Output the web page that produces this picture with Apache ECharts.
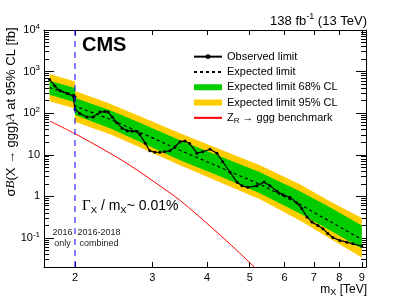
<!DOCTYPE html>
<html><head><meta charset="utf-8">
<script src="https://cdn.jsdelivr.net/npm/echarts@6/dist/echarts.min.js"></script>
<style>html,body{margin:0;padding:0;background:#fff}#c{width:407px;height:301px}</style>
</head><body><div id="c"></div>
<script>
const massObs = [1.75,1.80,1.85,1.92,1.98,2.0,2.0,2.05,2.13,2.2,2.28,2.34,2.38,2.43,2.49,2.56,2.63,2.7,2.77,2.81,2.89,2.96,3.04,3.12,3.2,3.29,3.38,3.47,3.56,3.65,3.79,3.91,4.06,4.21,4.34,4.51,4.68,4.8,4.95,5.19,5.39,5.56,5.77,5.95,6.17,6.4,6.57,6.75,6.93,7.15,7.34,7.53,7.73,8.02,8.32,8.59,9.0];
const observed = [649,448,344,299,261,247,125,98,81,81,106,109,106,81,59,43.5,38,37,36,31,19,12.5,11.5,11.5,11.8,12.5,15.6,20.6,21.5,18.6,10.9,11.8,13.6,10.9,6.8,3.8,2.17,1.79,1.65,1.79,2.21,1.79,1.32,1.09,0.95,0.70,0.51,0.32,0.24,0.20,0.167,0.128,0.103,0.087,0.079,0.072,0.064];
const massExp = [1.75,2.0,2.0,2.403,2.81,3.47,4.276,5.275,6.504,7.612,9.0];
const expected = [411,272,148,71.6,34.8,12.8,5.0,1.95,0.641,0.250,0.092];
const exp68Hi = [606,401,231,118,59.0,22.3,9.2,3.79,1.32,0.544,0.200];
const exp68Lo = [279,184,89.8,43.4,20.5,7.35,3.03,1.18,0.389,0.152,0.0558];
const exp95Hi = [869,575,340,169,84.5,32.9,13.6,5.60,1.95,0.759,0.30];
const exp95Lo = [194,129,62.6,31.2,15.1,5.57,2.18,0.849,0.264,0.0974,0.0339];
const massZR = [1.755,2.01,2.34,2.668,3.04,3.47,4.165,4.675,5.22];
const benchZR = [64.2,31.2,12.8,5.58,2.17,0.80,0.152,0.050,0.0165];
const dividerMass = [2, 2];
const dividerRange = [0.02, 10000];
const xTicks = [2,3,4,5,6,7,8,9];
const yMajor = [0.1,1,10,100,1000,10000];
const yMinor = [];
[0.01,0.1,1,10,100,1000].forEach(d=>{for(let k=2;k<=9;k++) yMinor.push(+(d*k).toPrecision(3));});
const yLabelText = {'0.1':'{b|10}{e|-1}','1':'{b|1}','10':'{b|10}','100':'{b|10}{e|2}','1000':'{b|10}{e|3}','10000':'{b|10}{e|4}'};

const FONT = 'Liberation Sans, Arial, Helvetica, sans-serif';
const pairs = (xs, ys) => xs.map((x,i)=>[x, ys[i]]);

function band(name, hi, lo, color, z){
  return {type:'custom', name, z, xAxisIndex:0, yAxisIndex:0, itemStyle:{color}, silent:true,
    data:[[massExp[0], expected[0]]],
    renderItem:(params, api)=>{
      const pts=[];
      for(let i=0;i<massExp.length;i++) pts.push(api.coord([massExp[i], hi[i]]));
      for(let i=massExp.length-1;i>=0;i--) pts.push(api.coord([massExp[i], lo[i]]));
      return {type:'polygon', shape:{points:pts}, style:{fill:color}};
    }};
}

const xBase = {type:'log', min:1.7, max:9.2, gridIndex:0, splitLine:{show:false}};
const yBase = {type:'log', min:0.02, max:10000, gridIndex:0, splitLine:{show:false}};
const axLine = {show:true, lineStyle:{color:'#000', width:1}};

const chart = echarts.init(document.getElementById('c'), null, {renderer:'canvas'});
chart.setOption({
  animation:false,
  backgroundColor:'#fff',
  grid:{left:44, right:41, top:30, bottom:34},
  xAxis:[
    Object.assign({}, xBase, {position:'bottom', axisLine:axLine,
      axisTick:{inside:true, length:5, customValues:xTicks, lineStyle:{color:'#000'}},
      axisLabel:{customValues:xTicks, margin:5, fontSize:11, color:'#000', fontFamily:FONT}}),
    Object.assign({}, xBase, {position:'top', axisLine:axLine,
      axisTick:{inside:true, length:5, customValues:xTicks, lineStyle:{color:'#000'}},
      axisLabel:{show:false}})
  ],
  yAxis:[
    Object.assign({}, yBase, {position:'left', axisLine:axLine,
      axisTick:{inside:true, length:10, customValues:yMajor, lineStyle:{color:'#000'}},
      axisLabel:{customValues:yMajor, margin:4, color:'#000', fontFamily:FONT,
        formatter:v=>yLabelText[String(+v.toPrecision(3))]||'',
        rich:{b:{fontSize:11, fontFamily:FONT, color:'#000'}, e:{fontSize:8, fontFamily:FONT, color:'#000', padding:[0,0,7,0]}}}}),
    Object.assign({}, yBase, {position:'left', axisLine:{show:false},
      axisTick:{inside:true, length:5, customValues:yMinor, lineStyle:{color:'#000'}},
      axisLabel:{show:false}}),
    Object.assign({}, yBase, {position:'right', axisLine:axLine,
      axisTick:{inside:true, length:10, customValues:yMajor, lineStyle:{color:'#000'}},
      axisLabel:{show:false}}),
    Object.assign({}, yBase, {position:'right', axisLine:{show:false},
      axisTick:{inside:true, length:5, customValues:yMinor, lineStyle:{color:'#000'}},
      axisLabel:{show:false}})
  ],
  legend:{
    left:193, top:49, padding:0, orient:'vertical', itemWidth:28, itemHeight:6, itemGap:0,
    textStyle:{fontSize:11, lineHeight:15.3, color:'#000', fontFamily:FONT,
      rich:{n:{fontSize:11, color:'#000', fontFamily:FONT}, s:{fontSize:8, color:'#000', fontFamily:FONT, padding:[6,0,0,0]}}},
    formatter:name=> name==='ZR' ? '{n|Z}{s|R}{n| → ggg benchmark}' : name,
    data:[{name:'Observed limit'},
          {name:'Expected limit', itemStyle:{opacity:0}},
          {name:'Expected limit 68% CL', icon:'rect'},
          {name:'Expected limit 95% CL', icon:'rect'},
          {name:'ZR', itemStyle:{opacity:0}}]
  },
  series:[
    band('Expected limit 95% CL', exp95Hi, exp95Lo, '#ffcc00', 1),
    band('Expected limit 68% CL', exp68Hi, exp68Lo, '#00cc00', 2),
    {type:'line', name:'Expected limit', z:3, data:pairs(massExp, expected), showSymbol:false, symbol:'none',
      lineStyle:{color:'#000', width:1.2, type:[3,3]}, itemStyle:{color:'#000'}},
    {type:'line', name:'ZR', z:3, data:pairs(massZR, benchZR), symbol:'none', smooth:0.3,
      lineStyle:{color:'#ff0000', width:1}, itemStyle:{color:'#ff0000'}},
    {type:'line', name:'divider', z:5, data:pairs(dividerMass, dividerRange), symbol:'none', silent:true,
      lineStyle:{color:'#0000ff', width:1, type:[6,5]}, itemStyle:{color:'#0000ff'}},
    {type:'line', name:'Observed limit', z:4, data:pairs(massObs, observed), symbol:'circle', symbolSize:3,
      lineStyle:{color:'#000', width:1.2}, itemStyle:{color:'#000'}}
  ],
  graphic:[
    {type:'text', x:367, y:21, style:{text:'{a|138 fb}{s|-1}{a| (13 TeV)}', align:'right', verticalAlign:'middle',
      rich:{a:{fontSize:13, fontFamily:FONT, fill:'#000'}, s:{fontSize:9, fontFamily:FONT, fill:'#000', padding:[0,0,8,0]}}}},
    {type:'text', x:82, y:45, style:{text:'CMS', fontSize:20, fontWeight:'bold', fontFamily:FONT, fill:'#000', verticalAlign:'middle'}},
    {type:'text', x:367, y:290, style:{text:'{a|m}{s|X}{a| [TeV]}', align:'right', verticalAlign:'middle',
      rich:{a:{fontSize:12, fontFamily:FONT, fill:'#000'}, s:{fontSize:9, fontFamily:FONT, fill:'#000', padding:[6,0,0,0]}}}},
    {type:'text', x:82, y:206, style:{text:'{g|Γ}{s|X}{a| / m}{s|X}{a|~ 0.01%}', verticalAlign:'middle',
      rich:{g:{fontSize:15, fontFamily:'Liberation Serif, serif', fill:'#000'}, a:{fontSize:14, fontFamily:FONT, fill:'#000'}, s:{fontSize:9.5, fontFamily:FONT, fill:'#000', padding:[8,0,0,0]}}}},
    {type:'text', x:62.5, y:238, style:{text:'2016\nonly', align:'center', verticalAlign:'middle', fontSize:9, lineHeight:11, fontFamily:FONT, fill:'#222'}},
    {type:'text', x:99, y:238, style:{text:'2016-2018\ncombined', align:'center', verticalAlign:'middle', fontSize:9, lineHeight:11, fontFamily:FONT, fill:'#222'}},
    {type:'text', x:11, y:112, rotation:Math.PI/2, style:{text:'{a|σ}{i|B}{a|(X → ggg)}{i|A}{a| at 95% CL [fb]}', align:'center', verticalAlign:'middle',
      rich:{a:{fontSize:13, fontFamily:FONT, fill:'#000'}, i:{fontSize:13, fontStyle:'italic', fontFamily:'Liberation Serif, serif', fill:'#000'}}}}
  ]
});
</script></body></html>
